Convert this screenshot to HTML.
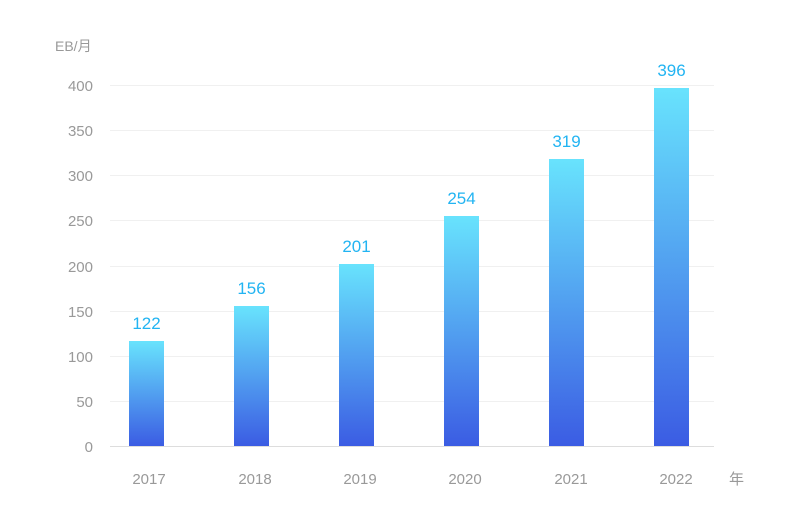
<!DOCTYPE html>
<html><head><meta charset="utf-8"><style>body{margin:0;background:#fff}</style></head><body>
<svg width="800" height="526" xmlns="http://www.w3.org/2000/svg" font-family="Liberation Sans, Noto Sans CJK SC, sans-serif">
<defs><linearGradient id="g" x1="0" y1="0" x2="0" y2="1"><stop offset="0" stop-color="#68e3fd"/><stop offset="1" stop-color="#3b5ce3"/></linearGradient></defs>
<g stroke="#f0f0f0" stroke-width="1">
<line x1="110" x2="714" y1="85.5" y2="85.5"/><line x1="110" x2="714" y1="130.5" y2="130.5"/><line x1="110" x2="714" y1="175.5" y2="175.5"/><line x1="110" x2="714" y1="220.5" y2="220.5"/><line x1="110" x2="714" y1="266.5" y2="266.5"/><line x1="110" x2="714" y1="311.5" y2="311.5"/><line x1="110" x2="714" y1="356.5" y2="356.5"/><line x1="110" x2="714" y1="401.5" y2="401.5"/>
</g>
<line x1="110" x2="714" y1="446.5" y2="446.5" stroke="#ddd"/>
<g fill="#999" font-size="15" text-anchor="end">
<text x="93" y="91">400</text><text x="93" y="136">350</text><text x="93" y="181">300</text><text x="93" y="226">250</text><text x="93" y="272">200</text><text x="93" y="317">150</text><text x="93" y="362">100</text><text x="93" y="407">50</text><text x="93" y="452">0</text>
</g>
<text x="55" y="51" fill="#999" font-size="14">EB/月</text>
<g fill="url(#g)">
<rect x="129" y="341" width="35" height="105"/><rect x="234" y="306" width="35" height="140"/><rect x="339" y="264" width="35" height="182"/><rect x="444" y="216" width="35" height="230"/><rect x="549" y="159" width="35" height="287"/><rect x="654" y="88" width="35" height="358"/>
</g>
<g fill="#22b4f2" font-size="17" text-anchor="middle">
<text x="146.5" y="329">122</text><text x="251.5" y="294">156</text><text x="356.5" y="252">201</text><text x="461.5" y="204">254</text><text x="566.5" y="147">319</text><text x="671.5" y="76">396</text>
</g>
<g fill="#999" font-size="15" text-anchor="middle">
<text x="149" y="484">2017</text><text x="255" y="484">2018</text><text x="360" y="484">2019</text><text x="465" y="484">2020</text><text x="571" y="484">2021</text><text x="676" y="484">2022</text>
</g>
<text x="729" y="484" fill="#999" font-size="15">年</text>
</svg>
</body></html>
